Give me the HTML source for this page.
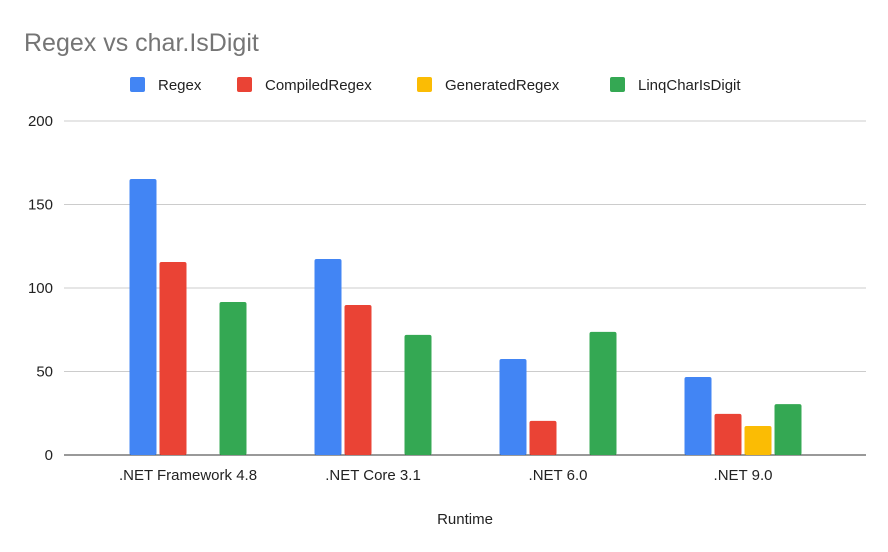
<!DOCTYPE html>
<html><head><meta charset="utf-8"><style>
body{margin:0;background:#fff;font-family:"Liberation Sans",Arial,sans-serif;}
</style></head><body>
<svg width="888" height="547" xmlns="http://www.w3.org/2000/svg">
<rect width="888" height="547" fill="#fff"/>
<text x="24" y="51" font-size="25" fill="#757575">Regex vs char.IsDigit</text>
<g id="legend"></g>
<g id="grid"></g>
<g id="bars"></g>
<g id="xlabels"></g>
<text x="465" y="524" font-size="15" fill="#222" text-anchor="middle">Runtime</text>
</svg>
<script>
const categories=[".NET Framework 4.8",".NET Core 3.1",".NET 6.0",".NET 9.0"];
const seriesNames=["Regex","CompiledRegex","GeneratedRegex","LinqCharIsDigit"];
const regex=[165.3,117.4,57.5,46.7];
const compiledRegex=[115.6,89.8,20.4,24.6];
const generatedRegex=[0,0,0,17.4];
const linqCharIsDigit=[91.6,71.9,73.7,30.5];
const yTicks=[0,50,100,150,200];
const colors=["#4285f4","#ea4335","#fbbc04","#34a853"];
const series=[regex,compiledRegex,generatedRegex,linqCharIsDigit];
const NS="http://www.w3.org/2000/svg";
const y0=455,pxPer=334/200;
const yS=v=>y0-v*pxPer;
const xC=i=>188+i*185;
function mk(t,a,p){const e=document.createElementNS(NS,t);for(const k in a)e.setAttribute(k,a[k]);p.appendChild(e);return e;}
const grid=document.getElementById('grid');
yTicks.forEach(t=>{
 const l=mk('line',{x1:64,x2:866,y1:yS(t),y2:yS(t),stroke:t===0?'#333':'#ccc','stroke-width':1},grid);
 
 
 const tx=mk('text',{x:53,y:yS(t)+5,'font-size':15,fill:'#222','text-anchor':'end'},grid);
 tx.textContent=t;
 
 
});
const bars=document.getElementById('bars');
series.forEach((s,si)=>{s.forEach((v,ci)=>{
 if(v<=0)return;
 const x=xC(ci)-58.5+si*30;
 const r=mk('rect',{x:x,y:yS(v),width:27,height:v*pxPer,fill:colors[si],rx:2},bars);
 
 
});});
const xl=document.getElementById('xlabels');
categories.forEach((c,i)=>{
 const t=mk('text',{x:xC(i),y:480,'font-size':15,fill:'#222','text-anchor':'middle'},xl);
 t.textContent=c;
 
 
});
const lg=document.getElementById('legend');
const lx=[130,237,417,610];
seriesNames.forEach((n,i)=>{
 const r=mk('rect',{x:lx[i],y:77,width:15,height:15,fill:colors[i],rx:2},lg);
 
 
 const t=mk('text',{x:lx[i]+28,y:90,'font-size':15,fill:'#222'},lg);
 t.textContent=n;
 
 
});
</script>
</body></html>
